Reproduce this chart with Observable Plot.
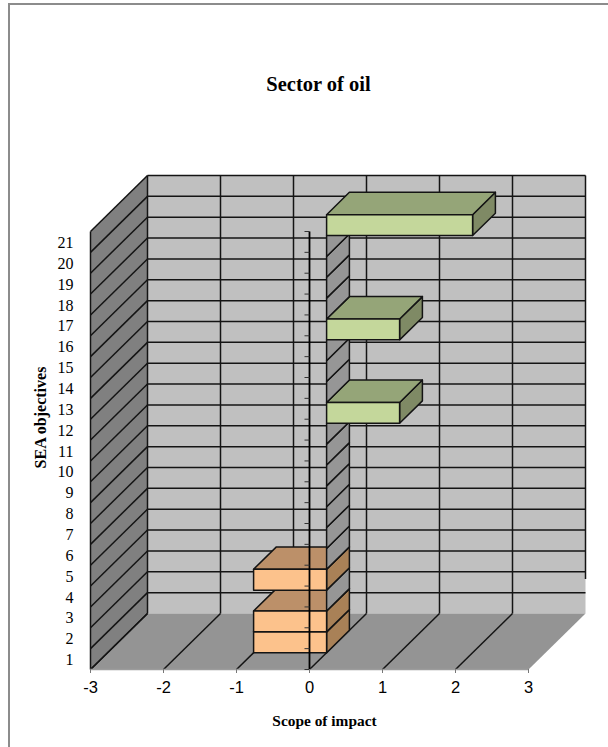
<!DOCTYPE html>
<html>
<head>
<meta charset="utf-8">
<style>
html,body{margin:0;padding:0;background:#fff;overflow:hidden}
#page{position:relative;width:608px;height:747px;overflow:hidden}
#edge{position:absolute;left:8px;top:3px;width:700px;height:800px;border-left:2px solid #8c8c8c;border-top:2px solid #8c8c8c}
#chart{position:absolute;left:0;top:0}
</style>
<script src="https://cdn.jsdelivr.net/npm/d3@7"></script>
<script src="https://cdn.jsdelivr.net/npm/@observablehq/plot@0.6"></script>
</head>
<body>
<div id="page"><div id="edge"></div><div id="chart"></div></div>
<script>
// Data
const title = "Sector of oil";
const xTitle = "Scope of impact";
const yTitle = "SEA objectives";
const objectives = d3.range(1, 22);
const scopeOfImpact = [-1,-1,0,-1,0,0,0,0,0,0,0,1,0,0,0,1,0,0,0,0,2];
const scopeTicks = [-3,-2,-1,0,1,2,3];

// Colours
const wallColor = "#c0c0c0", sideWallColor = "#808080", floorColor = "#949494";
const zeroSide = "#969696";
const posFront = "#c4d79b", posTop = "#95a578", posSide = "#7f8a65";
const negFront = "#fcc28c", negTop = "#bc9069", negSide = "#a98157";
const ink = "#141414";

// Oblique 3D projection, expressed in data units of the two scales
const skewX = 57 / 73, skewY = 56 / 20.86;
const px = (v, d) => v + d * skewX;
const py = (c, d) => c + d * skewY;
const barNear = 0.3, barFar = 0.7;
const xMin = scopeTicks[0], xMax = scopeTicks[scopeTicks.length - 1], yMax = objectives.length;

let nextId = 0;
const poly = (fill, corners) => {
  const id = nextId++;
  return corners.map(([v, c, d]) => ({id, fill, x: px(v, d), y: py(c, d)}));
};
const seg = (v1, c1, d1, v2, c2, d2) => ({x1: px(v1, d1), y1: py(c1, d1), x2: px(v2, d2), y2: py(c2, d2)});

const walls = [
  ...poly(wallColor, [[xMin,0,1],[xMax,0,1],[xMax,yMax,1],[xMin,yMax,1]]),
  ...poly(sideWallColor, [[xMin,0,0],[xMin,0,1],[xMin,yMax,1],[xMin,yMax,0]]),
  ...poly(floorColor, [[xMin,0,0],[xMax,0,0],[xMax,0,1],[xMin,0,1]])
];
const gridLines = [
  ...d3.range(1, yMax + 1).map(c => seg(xMin,c,1,xMax,c,1)),
  ...d3.range(0, yMax + 1).map(c => seg(xMin,c,0,xMin,c,1)),
  ...scopeTicks.slice(0,-1).map(v => seg(v,0,1,v,yMax,1)),
  ...scopeTicks.slice(0,-1).map(v => seg(v,0,0,v,0,1)),
  seg(xMin,0,0,xMin,yMax,0),
  seg(xMax,1.65,1,xMax,yMax,1)
];

// Bars, painted from the lowest objective upward so upper fronts cover lower tops
const barFaces = [];
objectives.forEach((o, i) => {
  const v = scopeOfImpact[i], c0 = o - 1, c1 = o;
  const front = v > 0 ? posFront : negFront;
  const top = v > 0 ? posTop : negTop;
  const side = v === 0 ? zeroSide : v > 0 ? posSide : negSide;
  const right = Math.max(v, 0), left = Math.min(v, 0);
  barFaces.push(...poly(side, [[right,c0,barNear],[right,c0,barFar],[right,c1,barFar],[right,c1,barNear]]));
  if (v !== 0) {
    barFaces.push(...poly(top, [[left,c1,barNear],[right,c1,barNear],[right,c1,barFar],[left,c1,barFar]]));
    barFaces.push(...poly(front, [[left,c0,barNear],[right,c0,barNear],[right,c1,barNear],[left,c1,barNear]]));
  }
});

const axisTicks = d3.range(0, yMax + 1);
const tickLen = 5 / 73;
const lineWidth = 1.5;

const plot = Plot.plot({
  width: 608, height: 747,
  marginLeft: 90, marginRight: 80, marginTop: 231, marginBottom: 78,
  style: {background: "transparent", overflow: "visible"},
  x: {domain: [xMin, xMax]},
  y: {domain: [0, yMax]},
  marks: [
    Plot.line(walls, {x: "x", y: "y", z: "id", fill: {value: "fill", scale: null}, stroke: "none", curve: "linear-closed"}),
    Plot.link(gridLines, {x1: "x1", y1: "y1", x2: "x2", y2: "y2", stroke: ink, strokeWidth: lineWidth}),
    Plot.line(barFaces, {x: "x", y: "y", z: "id", fill: {value: "fill", scale: null}, stroke: ink, strokeWidth: lineWidth, strokeLinejoin: "round", curve: "linear-closed"}),
    Plot.ruleY([0], {x1: xMin, x2: xMax, stroke: "#9c9c9c", strokeWidth: 1.5}),
    Plot.link([seg(0,0,0,0,yMax,0)], {x1: "x1", y1: "y1", x2: "x2", y2: "y2", stroke: "#000", strokeWidth: 1.8}),
    Plot.link(axisTicks, {x1: 0, x2: -tickLen, y1: d => d, y2: d => d, stroke: "#333", strokeWidth: 1}),
    Plot.axisX({anchor: "bottom", ticks: scopeTicks, tickFormat: d => String(d), tickSize: 4, tickPadding: 8, label: null, stroke: "#777", fill: "#000", fontSize: 16.5, fontFamily: "Liberation Sans"}),
    Plot.axisY({anchor: "left", ticks: objectives.map(o => o - 0.5), tickFormat: d => String(d + 0.5), tickSize: 0, tickPadding: 17, dy: 1, label: null, fill: "#000", fontSize: 16, fontFamily: "Liberation Serif"}),
    Plot.text([title], {frameAnchor: "top", dx: 9, dy: -147, lineAnchor: "middle", fontSize: 20.5, fontWeight: "bold", fontFamily: "Liberation Serif", fill: "#000"}),
    Plot.text([xTitle], {frameAnchor: "bottom", dx: 15, dy: 52, lineAnchor: "middle", fontSize: 15.4, fontWeight: "bold", fontFamily: "Liberation Serif", fill: "#000"}),
    Plot.text([yTitle], {frameAnchor: "left", textAnchor: "middle", dx: -50, dy: -33, rotate: -90, lineAnchor: "middle", fontSize: 16, fontWeight: "bold", fontFamily: "Liberation Serif", fill: "#000"})
  ]
});
document.getElementById("chart").appendChild(plot);
</script>
</body>
</html>
